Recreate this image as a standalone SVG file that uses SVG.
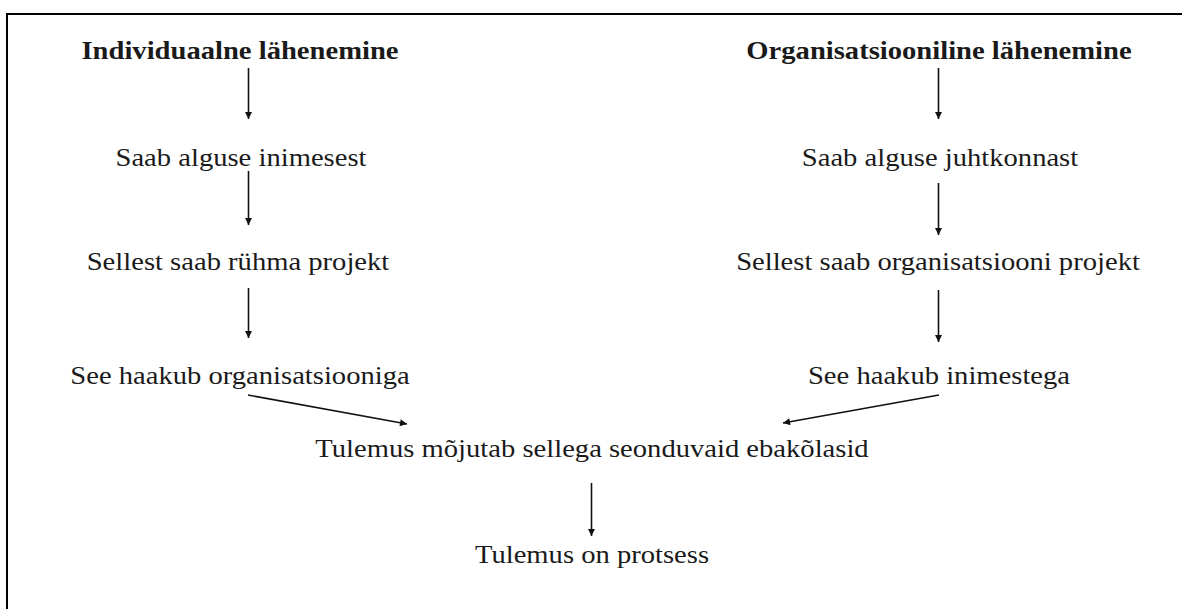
<svg xmlns="http://www.w3.org/2000/svg" width="1182" height="609" viewBox="0 0 1182 609">
<defs>
<marker id="ah" viewBox="0 0 10 10" refX="10" refY="5" markerWidth="9" markerHeight="7" markerUnits="userSpaceOnUse" orient="auto">
<path d="M0,0 L10,5 L0,10 z" fill="#111"/>
</marker>
<style>
text{font-family:"Liberation Serif","Times New Roman",serif;font-size:26px;fill:#1a1a1a;text-anchor:middle}
.b{font-weight:bold}
.c line{stroke:#111;stroke-width:1.6;marker-end:url(#ah)}
</style>
</defs>
<rect width="1182" height="609" fill="#fff"/>
<path d="M7,609 V14 H1182" fill="none" stroke="#000" stroke-width="2"/>
<g id="n1"><text class="b" transform="translate(240,59) scale(1.1,1)">Individuaalne lähenemine</text></g>
<g id="n2"><text class="b" transform="translate(939,59) scale(1.1,1)">Organisatsiooniline lähenemine</text></g>
<g id="n3"><text transform="translate(241,166) scale(1.1,1)">Saab alguse inimesest</text></g>
<g id="n4"><text transform="translate(940,166) scale(1.1,1)">Saab alguse juhtkonnast</text></g>
<g id="n5"><text transform="translate(238,270) scale(1.1,1)">Sellest saab rühma projekt</text></g>
<g id="n6"><text transform="translate(938,270) scale(1.1,1)">Sellest saab organisatsiooni projekt</text></g>
<g id="n7"><text transform="translate(240,384) scale(1.1,1)">See haakub organisatsiooniga</text></g>
<g id="n8"><text transform="translate(939,384) scale(1.1,1)">See haakub inimestega</text></g>
<g id="n9"><text transform="translate(592,457) scale(1.1,1)">Tulemus mõjutab sellega seonduvaid ebakõlasid</text></g>
<g id="n10"><text transform="translate(592,563) scale(1.1,1)">Tulemus on protsess</text></g>
<g id="connectors" class="c">
<line x1="248.5" y1="68" x2="248.5" y2="119"/>
<line x1="938.5" y1="68" x2="938.5" y2="119"/>
<line x1="248.5" y1="171" x2="248.5" y2="225"/>
<line x1="938.5" y1="183" x2="938.5" y2="235"/>
<line x1="248.5" y1="288" x2="248.5" y2="338"/>
<line x1="938.5" y1="290" x2="938.5" y2="342"/>
<line x1="248" y1="395" x2="407" y2="424"/>
<line x1="939" y1="395" x2="783" y2="423"/>
<line x1="591.5" y1="483" x2="591.5" y2="536"/>
</g>
</svg>
